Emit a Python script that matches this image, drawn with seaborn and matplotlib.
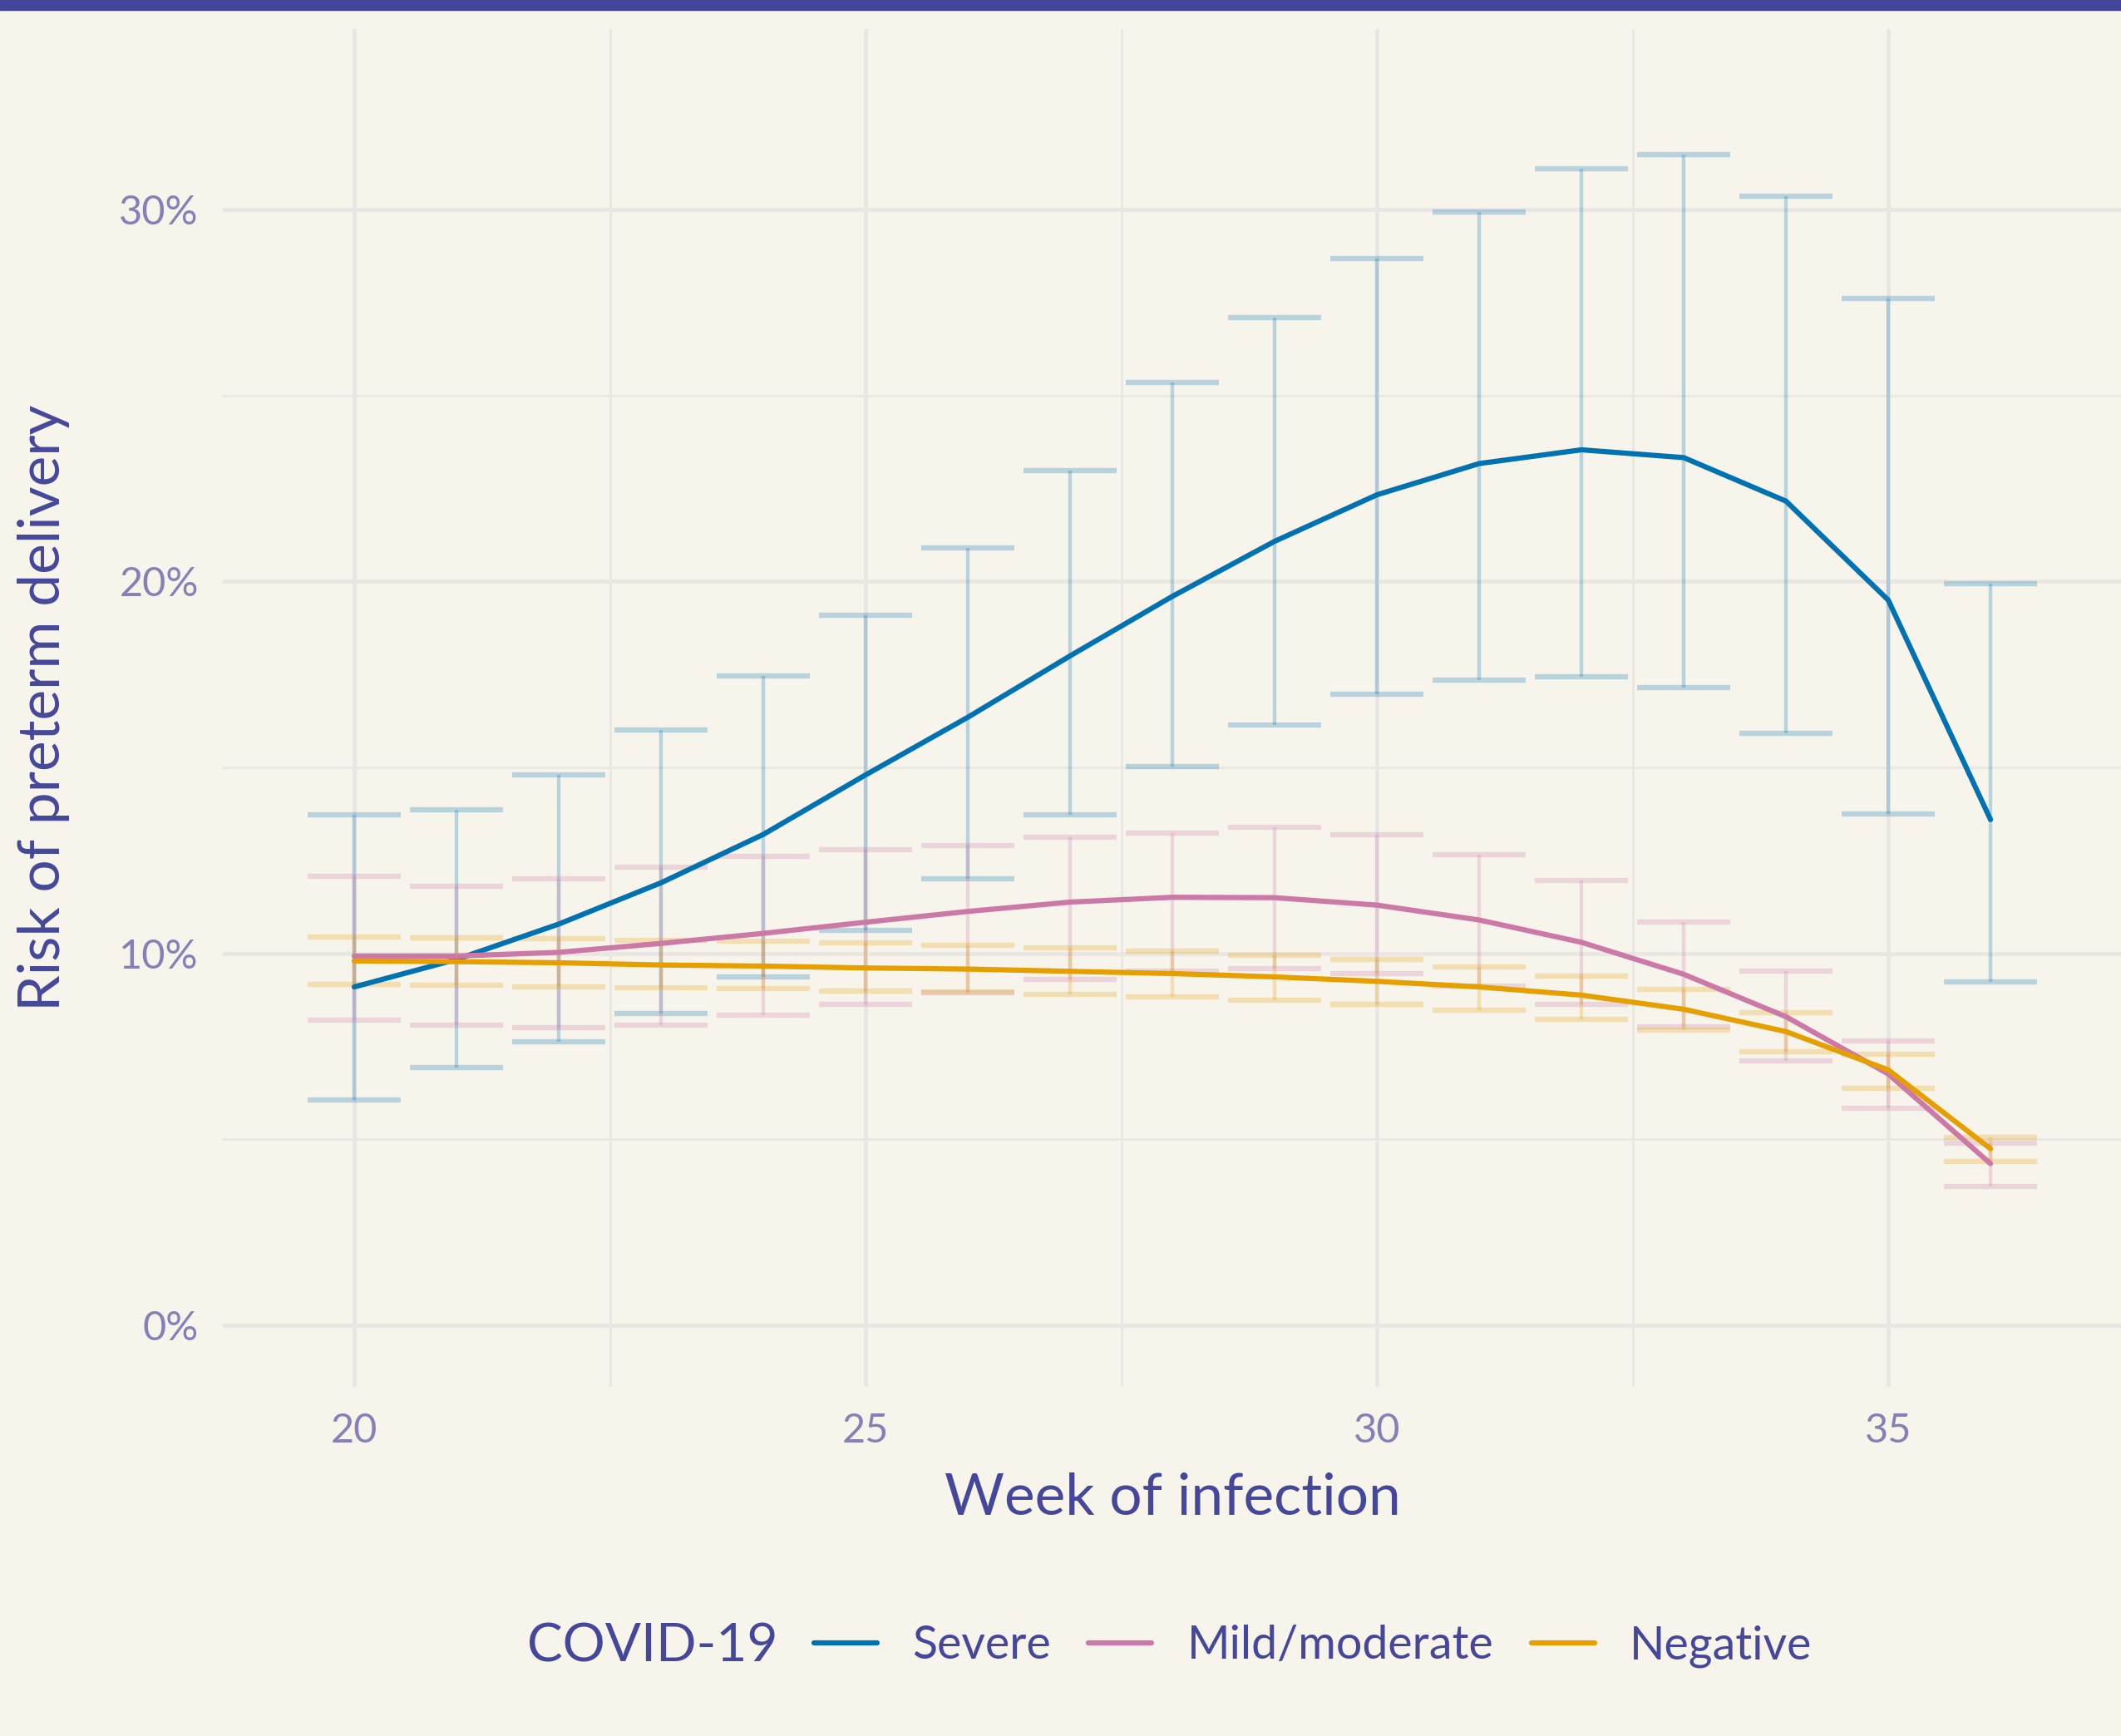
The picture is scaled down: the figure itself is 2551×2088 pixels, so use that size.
import pandas as pd
import numpy as np
import matplotlib
matplotlib.use("Agg")
import matplotlib.pyplot as plt
from matplotlib.patches import Rectangle
from matplotlib.ticker import FuncFormatter, MultipleLocator
import seaborn as sns

# risk of preterm delivery (%) by week of infection
weeks = list(range(20, 37))

severe = [9.1, 9.84, 10.79, 11.9, 13.2, 14.8, 16.35, 18.0, 19.6, 21.08, 22.33,
          23.17, 23.54, 23.33, 22.16, 19.5, 13.6]
severe_lo = [6.07, 6.93, 7.62, 8.39, 9.37, 10.61, 12.0, 13.73, 15.03, 16.14, 16.97,
             17.35, 17.43, 17.14, 15.92, 13.75, 9.24]
severe_hi = [13.73, 13.87, 14.8, 16.0, 17.45, 19.1, 20.91, 22.98, 25.34, 27.1, 28.69,
             29.93, 31.09, 31.48, 30.35, 27.6, 19.94]

mild = [9.93, 9.93, 10.03, 10.27, 10.54, 10.84, 11.13, 11.38, 11.51, 11.5, 11.3,
        10.9, 10.3, 9.44, 8.3, 6.76, 4.35]
mild_lo = [8.2, 8.07, 8.01, 8.08, 8.33, 8.64, 8.95, 9.3, 9.52, 9.6, 9.46,
           9.12, 8.63, 8.03, 7.12, 5.84, 3.74]
mild_hi = [12.08, 11.81, 12.0, 12.32, 12.6, 12.78, 12.9, 13.12, 13.23, 13.4, 13.19,
           12.65, 11.96, 10.85, 9.53, 7.65, 4.9]

negative = [9.8, 9.78, 9.75, 9.69, 9.66, 9.61, 9.58, 9.52, 9.46, 9.37, 9.25,
            9.1, 8.88, 8.5, 7.9, 6.87, 4.75]
negative_lo = [9.17, 9.14, 9.11, 9.08, 9.05, 9.0, 8.97, 8.9, 8.83, 8.75, 8.64,
               8.47, 8.24, 7.93, 7.36, 6.38, 4.4]
negative_hi = [10.44, 10.41, 10.39, 10.36, 10.32, 10.28, 10.22, 10.15, 10.06, 9.96, 9.83,
               9.64, 9.39, 9.04, 8.41, 7.29, 5.06]

groups = ["Severe", "Mild/moderate", "Negative"]
colors = {"Severe": "#0072B2", "Mild/moderate": "#CC79A7", "Negative": "#E69F00"}

bg = "#F7F4EC"
title_col = "#45479A"
tick_col = "#8581B8"
grid_col = "#E9E6E4"

df = pd.concat([
    pd.DataFrame({"week": weeks, "risk": severe, "lo": severe_lo, "hi": severe_hi, "group": "Severe"}),
    pd.DataFrame({"week": weeks, "risk": mild, "lo": mild_lo, "hi": mild_hi, "group": "Mild/moderate"}),
    pd.DataFrame({"week": weeks, "risk": negative, "lo": negative_lo, "hi": negative_hi, "group": "Negative"}),
], ignore_index=True)

sns.set_theme(style="white")
plt.rcParams["font.family"] = ["Lato", "DejaVu Sans"]

fig = plt.figure(figsize=(25.51, 20.88), dpi=100)
fig.patch.set_facecolor(bg)
ax = fig.add_axes([0.10506, 0.20115, 0.89494, 0.78209])
ax.set_facecolor(bg)

# grid
ax.xaxis.set_major_locator(MultipleLocator(5))
ax.xaxis.set_minor_locator(MultipleLocator(2.5))
ax.yaxis.set_major_locator(MultipleLocator(10))
ax.yaxis.set_minor_locator(MultipleLocator(5))
ax.grid(which="major", color=grid_col, linewidth=3.4, zorder=0)
ax.grid(which="minor", color=grid_col, linewidth=2.0, zorder=0)
ax.set_axisbelow(True)

# confidence intervals
for g in groups:
    d = df[df["group"] == g]
    ax.errorbar(d["week"], d["risk"], yerr=[d["risk"] - d["lo"], d["hi"] - d["risk"]],
                fmt="none", ecolor=colors[g], alpha=0.25, elinewidth=3.2,
                capsize=40, capthick=4.6, zorder=2, label="_nolegend_")

sns.lineplot(data=df, x="week", y="risk", hue="group", hue_order=groups,
             palette=colors, linewidth=4.5, ax=ax, zorder=3)

ax.set_xlim(18.715, 37.276)
ax.set_ylim(-1.65, 34.85)
ax.yaxis.set_major_formatter(FuncFormatter(lambda v, _: f"{v:.0f}%"))
for s in ax.spines.values():
    s.set_visible(False)
ax.tick_params(axis="both", which="both", length=0, labelsize=35, labelcolor=tick_col)
ax.tick_params(axis="x", pad=22)
ax.tick_params(axis="y", pad=21)

ax.set_xlabel("Week of infection", fontsize=50, color=title_col)
ax.set_ylabel("Risk of preterm delivery", fontsize=50, color=title_col)
ax.xaxis.set_label_coords(0.5006, -0.0626)
ax.yaxis.set_label_coords(-0.0805, 0.5)

# legend along the bottom with its title inline
handles, labels = ax.get_legend_handles_labels()
ax.get_legend().remove()
leg = fig.legend(handles, labels, loc="center", bbox_to_anchor=(0.619, 0.0517),
                 ncol=3, frameon=False, fontsize=40, handlelength=1.37,
                 handletextpad=0.76, columnspacing=0.82, borderpad=0)
for t in leg.get_texts():
    t.set_color(title_col)
for h in leg.legend_handles:
    h.set_linewidth(4.5)
fig.text(0.3077, 0.0517, "COVID-19", ha="center", va="center", fontsize=46, color=title_col)

# top band
fig.add_artist(Rectangle((0, 1 - 12 / 2088), 1, 12 / 2088, transform=fig.transFigure,
                         color="#434599", zorder=10))

fig.savefig("out.png", dpi=100, facecolor=bg)
